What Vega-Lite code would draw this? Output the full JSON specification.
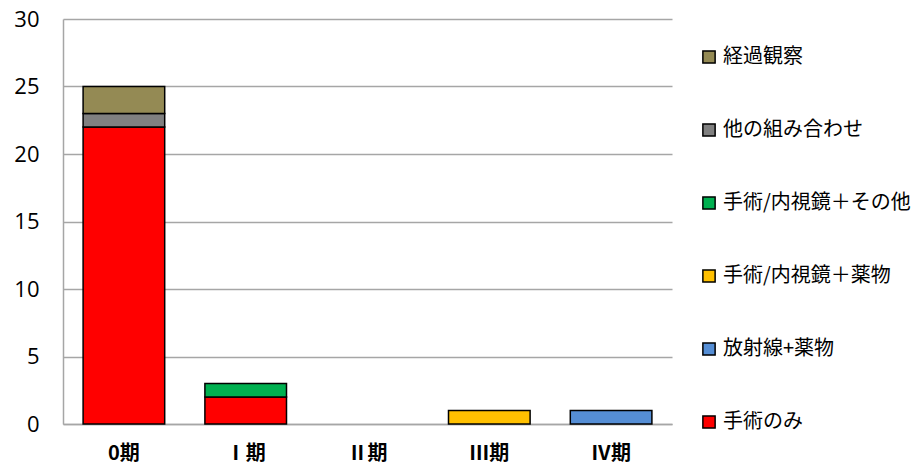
{
  "$schema": "https://vega.github.io/schema/vega-lite/v6.json",
  "autosize": "none",
  "width": 609,
  "height": 405,
  "padding": {"left": 63, "top": 19, "right": 246, "bottom": 49},
  "background": "white",
  "config": {"view": {"stroke": null}, "font": "Noto Sans CJK JP"},
  "data": {"values": [
    {"stage": "0期", "type": "手術のみ", "ord": 1, "value": 22},
    {"stage": "0期", "type": "他の組み合わせ", "ord": 5, "value": 1},
    {"stage": "0期", "type": "経過観察", "ord": 6, "value": 2},
    {"stage": "Ⅰ期", "type": "手術のみ", "ord": 1, "value": 2},
    {"stage": "Ⅰ期", "type": "手術/内視鏡＋その他", "ord": 4, "value": 1},
    {"stage": "Ⅲ期", "type": "手術/内視鏡＋薬物", "ord": 3, "value": 1},
    {"stage": "Ⅳ期", "type": "放射線+薬物", "ord": 2, "value": 1}
  ]},
  "mark": {"type": "bar", "stroke": "black", "strokeWidth": 1.5},
  "encoding": {
    "x": {"field": "stage", "type": "nominal",
      "scale": {"domain": ["0期", "Ⅰ期", "Ⅱ期", "Ⅲ期", "Ⅳ期"], "paddingInner": 0.33, "paddingOuter": 0.165},
      "axis": {"title": null, "labelAngle": 0, "labelFontSize": 20, "labelFontWeight": "bold", "labelFont": "Noto Sans CJK JP", "labelColor": "black", "ticks": false, "labelPadding": 19, "domainColor": "#a6a6a6", "domainWidth": 1.5}},
    "y": {"field": "value", "type": "quantitative", "stack": "zero",
      "scale": {"domain": [0, 30]},
      "axis": {"title": null, "values": [0, 5, 10, 15, 20, 25, 30], "labelFontSize": 22, "labelFont": "Open Sans", "labelColor": "black", "ticks": false, "labelPadding": 24, "gridColor": "#a6a6a6", "gridWidth": 1.5, "domainColor": "#a6a6a6", "domainWidth": 1.5}},
    "color": {"field": "type", "type": "nominal",
      "scale": {
        "domain": ["経過観察", "他の組み合わせ", "手術/内視鏡＋その他", "手術/内視鏡＋薬物", "放射線+薬物", "手術のみ"],
        "range": ["#948A54", "#808080", "#00B050", "#FFC000", "#558ED5", "#FF0000"]},
      "legend": {"title": null, "orient": "none", "legendX": 636, "legendY": 28, "symbolType": "square", "symbolSize": 150, "symbolStrokeColor": "black", "symbolStrokeWidth": 1.5, "labelFontSize": 20, "labelFont": "Noto Sans CJK JP", "labelColor": "black", "rowPadding": 53, "labelOffset": 4, "labelLimit": 300}},
    "order": {"field": "ord", "type": "quantitative"}
  }
}
